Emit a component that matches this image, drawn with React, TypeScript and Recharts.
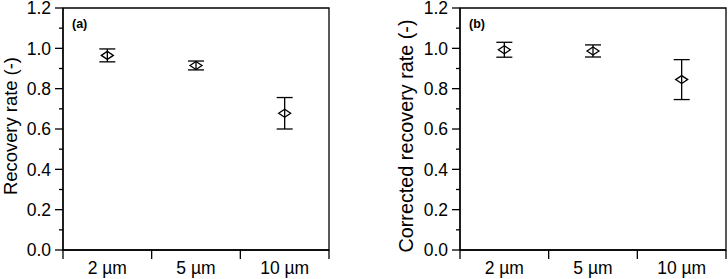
import React from 'react';
import { ScatterChart, Scatter, XAxis, YAxis, ErrorBar, ReferenceArea } from 'recharts';

const categories = ['2 µm', '5 µm', '10 µm'];
const catPositions = [0.5, 1.5, 2.5];
const recoveryValues = [0.965, 0.915, 0.678];
const recoveryErrors = [0.032, 0.022, 0.078];
const correctedValues = [0.993, 0.987, 0.845];
const correctedErrors = [0.037, 0.03, 0.099];
const yTicks = [0, 0.1, 0.2, 0.3, 0.4, 0.5, 0.6, 0.7, 0.8, 0.9, 1.0, 1.1, 1.2];
const xTicks = [0, 0.5, 1, 1.5, 2, 2.5, 3];

const FONT = '"Liberation Sans", Arial, sans-serif';
const STROKE = 1.3;
const TICK_FONT = 17.5;

const buildData = (vals: number[], errs: number[]) =>
  vals.map((v, i) => ({ x: catPositions[i], y: v, err: errs[i], name: categories[i] }));

const YTick = (props: any) => {
  const { x, y, payload } = props;
  const v = payload.value as number;
  const major = Math.round(v * 10) % 2 === 0;
  return (
    <g>
      <line x1={x} x2={x - (major ? 8 : 4)} y1={y} y2={y} stroke="#000" strokeWidth={STROKE} />
      {major && (
        <text x={x - 12} y={y} dy="0.36em" textAnchor="end" fontSize={TICK_FONT} fontFamily={FONT} fill="#000">
          {v.toFixed(1)}
        </text>
      )}
    </g>
  );
};

const XTick = (props: any) => {
  const { x, y, payload } = props;
  const v = payload.value as number;
  if (Number.isInteger(v)) {
    return <line x1={x} x2={x} y1={y} y2={y + 9} stroke="#000" strokeWidth={STROKE} />;
  }
  const idx = catPositions.indexOf(v);
  return (
    <text x={x} y={y + 24} textAnchor="middle" fontSize={TICK_FONT} fontFamily={FONT} fill="#000">
      {categories[idx]}
    </text>
  );
};

const Diamond = (props: any) => {
  const { cx, cy } = props;
  if (cx == null || cy == null) return null;
  return (
    <polygon
      points={`${cx - 6},${cy} ${cx},${cy - 4} ${cx + 6},${cy} ${cx},${cy + 4}`}
      fill="none"
      stroke="#000"
      strokeWidth={STROKE}
    />
  );
};

interface PanelProps {
  vals: number[];
  errs: number[];
  title: string;
  panel: string;
  yAxisWidth: number;
  rightMargin: number;
  titleX: number;
  titleY: number;
  titleSize: number;
}

const Panel = ({ vals, errs, title, panel, yAxisWidth, rightMargin, titleX, titleY, titleSize }: PanelProps) => {
  const data = buildData(vals, errs);
  const top = 8;
  return (
    <ScatterChart width={364} height={279} margin={{ top, right: rightMargin, bottom: 0, left: 0 }}>
      <XAxis
        type="number"
        dataKey="x"
        domain={[0, 3]}
        ticks={xTicks}
        interval={0}
        tickLine={false}
        tickSize={0}
        tickMargin={0}
        height={29}
        axisLine={{ stroke: '#000', strokeWidth: STROKE }}
        tick={(p: any) => <XTick {...p} />}
      />
      <YAxis
        type="number"
        dataKey="y"
        domain={[0, 1.2]}
        ticks={yTicks}
        interval={0}
        tickLine={false}
        tickSize={0}
        tickMargin={0}
        width={yAxisWidth}
        axisLine={{ stroke: '#000', strokeWidth: STROKE }}
        tick={(p: any) => <YTick {...p} />}
        label={() => (
          <g>
            <text
              x={titleX}
              y={titleY}
              transform={`rotate(-90 ${titleX} ${titleY})`}
              textAnchor="middle"
              dy="0.36em"
              fontSize={titleSize}
              fontFamily={FONT}
              fill="#000"
            >
              {title}
            </text>
            <text x={yAxisWidth + 9} y={28} fontSize={12.5} fontWeight="bold" fontFamily={FONT} fill="#000">
              {panel}
            </text>
          </g>
        )}
      />
      <ReferenceArea x1={0} x2={3} y1={0} y2={1.2} fill="none" stroke="#000" strokeWidth={STROKE} />
      <Scatter data={data} isAnimationActive={false} shape={(p: any) => <Diamond {...p} />}>
        <ErrorBar dataKey="err" direction="y" width={8} stroke="#000" strokeWidth={STROKE} />
      </Scatter>
    </ScatterChart>
  );
};

export default function App() {
  return (
    <div style={{ position: 'absolute', left: 0, top: 0, width: 728, height: 279, background: '#fff' }}>
      <div style={{ position: 'absolute', left: 0, top: 0 }}>
        <Panel
          vals={recoveryValues}
          errs={recoveryErrors}
          title="Recovery rate (-)"
          panel="(a)"
          yAxisWidth={63}
          rightMargin={35}
          titleX={10}
          titleY={126}
          titleSize={18.4}
        />
      </div>
      <div style={{ position: 'absolute', left: 364, top: 0 }}>
        <Panel
          vals={correctedValues}
          errs={correctedErrors}
          title="Corrected recovery rate (-)"
          panel="(b)"
          yAxisWidth={96}
          rightMargin={2}
          titleX={42}
          titleY={136}
          titleSize={19.8}
        />
      </div>
    </div>
  );
}
